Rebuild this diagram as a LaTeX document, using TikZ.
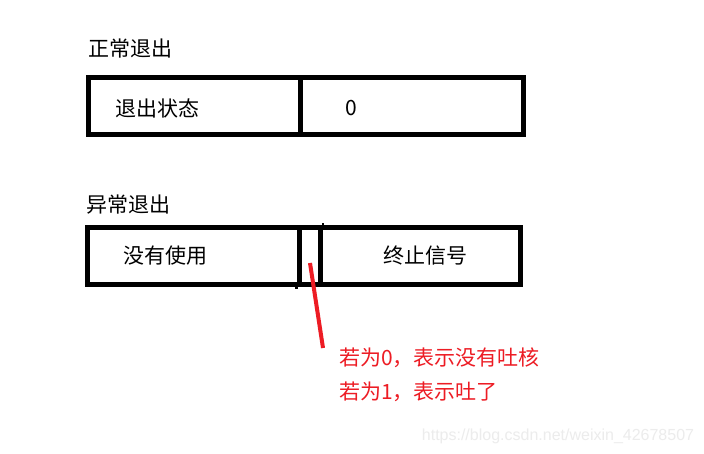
\documentclass[tikz,border=0pt]{standalone}
\usepackage{fontspec}
\newfontfamily\cjk{Noto Sans CJK SC}
\newfontfamily\wm{Liberation Sans}
\definecolor{redline}{RGB}{237,28,36}
\definecolor{wmgray}{RGB}{236,236,236}
\tikzset{
  cell/.style={draw=black, line width=5pt, rectangle, inner sep=0pt, minimum height=57pt},
  lbl/.style={font=\cjk\fontsize{21}{23}\selectfont, inner sep=0pt, anchor=center},
  note/.style={font=\cjk\fontsize{21}{23}\selectfont, text=redline, inner sep=0pt, anchor=west},
}
\begin{document}
\begin{tikzpicture}[x=1pt,y=-1pt]
\useasboundingbox[fill=white] (0,0) rectangle (704,454);
% normal exit
\node[lbl] (t1) at (130,49) {正常退出};
\node[cell, minimum width=212pt] (a1) at (194.5,106) {};
\node[cell, minimum width=223pt] (a2) at (412,106) {};
\node[lbl] (s1) at (157,108) {退出状态};
\node[lbl] (z1) at (351.5,108) {0};
% abnormal exit
\node[lbl] (t2) at (128,205) {异常退出};
\node[cell, minimum width=211.5pt] (b1) at (193.25,256) {};
\node[cell, minimum width=21pt] (b2) at (309.5,256) {};
\node[cell, minimum width=200.5pt] (b3) at (420.25,256) {};
\node[lbl] (u1) at (165,256) {没有使用};
\node[lbl] (u3) at (425,256) {终止信号};
\draw[line width=3pt] (b2.south west) -- ++(0,2);
\draw[line width=2pt] (b2.north east) -- ++(0,-2);
% red annotation
\coordinate (r1) at (310,263);
\coordinate (r2) at (323,348);
\draw[redline, line width=4pt] (r1) -- (r2);
\node[note] (n1) at (339,358) {若为0，表示没有吐核};
\node[note] (n2) at (339,392) {若为1，表示吐了};
% watermark
\node[font=\wm\fontsize{16}{18}\selectfont, text=wmgray, inner sep=0pt] (w) at (558,436) {https://blog.csdn.net/weixin\_42678507};
\end{tikzpicture}
\end{document}
